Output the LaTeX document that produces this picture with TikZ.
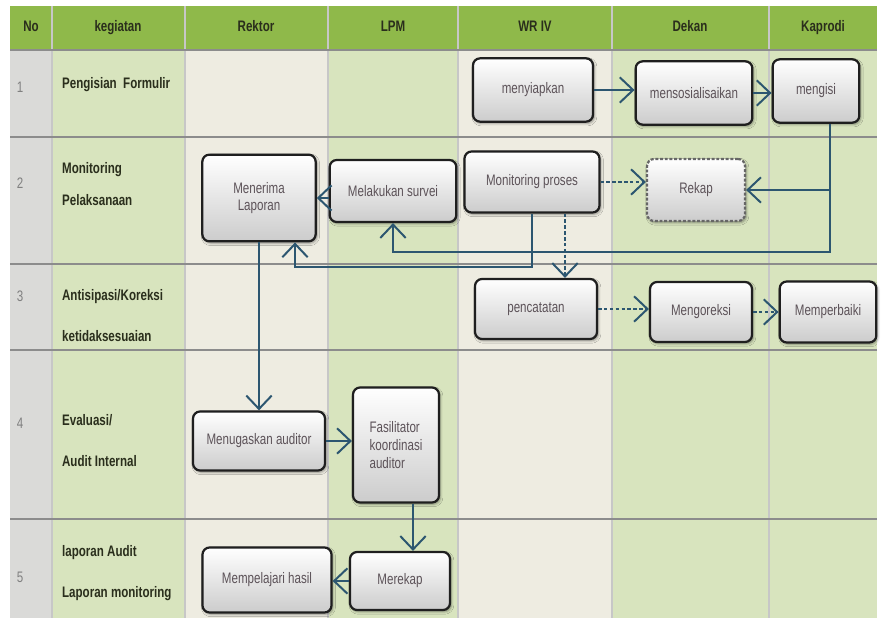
\documentclass[tikz,border=0pt]{standalone}
\usepackage{fontspec}
\setmainfont{Liberation Sans}[FakeStretch=0.76]
\usetikzlibrary{arrows.meta,calc,shadows.blur}
\definecolor{headgreen}{RGB}{143,185,74}
\definecolor{lanegreen}{RGB}{216,228,190}
\definecolor{lanecream}{RGB}{238,236,225}
\definecolor{nogray}{RGB}{218,218,216}
\definecolor{flowblue}{RGB}{44,86,112}
\definecolor{boxtext}{RGB}{92,82,88}
\definecolor{labeltext}{RGB}{42,46,28}

\begin{document}
\begin{tikzpicture}[x=0.3mm, y=-0.3mm,
        font=\fontsize{13}{15}\selectfont,
        stepbox/.style={draw=black!88, line width=1.9pt, rounded corners=6pt,
            top color=white, bottom color=black!20, text=boxtext, align=center,
            inner sep=2pt, blur shadow={shadow xshift=1.2pt, shadow yshift=-1.5pt}},
        dashbox/.style={stepbox, draw=black!60, dash pattern=on 2.5pt off 1.5pt},
        flow/.style={draw=flowblue, line width=1.7pt,
            -{Straight Barb[length=4mm, width=7.6mm, line width=1.7pt]}},
        dflow/.style={flow, dash pattern=on 3pt off 2pt},
        lanehead/.style={font=\bfseries\fontsize{13}{15}\selectfont, text=labeltext,
            text height=1.6ex, text depth=0.4ex},
        lanetext/.style={anchor=west, align=left, text=labeltext,
            font=\bfseries\fontsize{13}{15}\selectfont},
        rownum/.style={text=black!50},
        lanegrid/.style={draw=black!22, line width=0.9pt},
        rowgrid/.style={draw=black!45, line width=1.2pt}]
    \useasboundingbox (0,0) rectangle (881,628);
    \fill[nogray] (10,50) rectangle (52,618);
    \fill[lanegreen] (52,50) rectangle (185,618);
    \fill[lanecream] (185,50) rectangle (328,618);
    \fill[lanegreen] (328,50) rectangle (458,618);
    \fill[lanecream] (458,50) rectangle (612,618);
    \fill[lanegreen] (612,50) rectangle (877,618);
    \fill[headgreen] (10,6) rectangle (877,50);
    \foreach \x in {52,185,328,458,612,769}
        \draw[lanegrid] (\x,6) -- (\x,618);
    \foreach \y in {50,137,264,350,519}
        \draw[rowgrid] (10,\y) -- (877,\y);

    \node[lanehead] (hno) at (31,28) {No};
    \node[lanehead] (hkeg) at (118,28) {kegiatan};
    \node[lanehead] (hrektor) at (256,28) {Rektor};
    \node[lanehead] (hlpm) at (393,28) {LPM};
    \node[lanehead] (hwr) at (535,28) {WR IV};
    \node[lanehead] (hdekan) at (690,28) {Dekan};
    \node[lanehead] (hkaprodi) at (823,28) {Kaprodi};

    \node[rownum] (n1) at (20,87) {1};
    \node[rownum] (n2) at (20,183) {2};
    \node[rownum] (n3) at (20,296) {3};
    \node[rownum] (n4) at (20,423) {4};
    \node[rownum] (n5) at (20,577) {5};

    \node[lanetext] (k1) at (58,85) {Pengisian\ \ Formulir};
    \node[lanetext] (k2) at (58,184) {Monitoring\\[12pt]Pelaksanaan};
    \node[lanetext] (k3) at (58,316) {Antisipasi/Koreksi\\[20pt]ketidaksesuaian};
    \node[lanetext] (k4) at (58,441) {Evaluasi/\\[20pt]Audit Internal};
    \node[lanetext] (k5) at (58,573) {laporan Audit\\[20pt]Laporan monitoring};

    \node[stepbox, minimum width=36mm, minimum height=19mm] (menyiapkan) at (533,90) {menyiapkan};
    \node[stepbox, minimum width=35mm, minimum height=19mm] (mensos) at (694,93) {mensosialisaikan};
    \node[stepbox, minimum width=26mm, minimum height=19mm] (mengisi) at (816,91) {mengisi};
    \node[stepbox, minimum width=34mm, minimum height=26mm] (menerima) at (259,198) {Menerima\\Laporan};
    \node[stepbox, minimum width=38mm, minimum height=18.6mm] (survei) at (393,191) {Melakukan survei};
    \node[stepbox, minimum width=40.5mm, minimum height=18.3mm] (monitor) at (532,182) {Monitoring proses};
    \node[dashbox, minimum width=29.4mm, minimum height=18.6mm] (rekap) at (696,190) {Rekap};
    \node[stepbox, minimum width=36.6mm, minimum height=18mm] (pencatatan) at (536,309) {pencatatan};
    \node[stepbox, minimum width=30.6mm, minimum height=18mm] (mengoreksi) at (701,312) {Mengoreksi};
    \node[stepbox, minimum width=29mm, minimum height=18.3mm] (memperbaiki) at (828,312) {Memperbaiki};
    \node[stepbox, minimum width=39.6mm, minimum height=17.7mm] (menugaskan) at (259,441) {Menugaskan auditor};
    \node[stepbox, minimum width=25.8mm, minimum height=34.5mm, align=left] (fasilitator) at (396,445) {Fasilitator\\koordinasi\\auditor};
    \node[stepbox, minimum width=38.7mm, minimum height=19.5mm] (mempelajari) at (267,580) {Mempelajari hasil};
    \node[stepbox, minimum width=30mm, minimum height=17.4mm] (merekap) at (400,581) {Merekap};

    \coordinate (kp) at (830,252);
    \coordinate (mp) at (295,267);
    \coordinate (dp) at (565,245);
    \coordinate (fp) at (413,530);

    \draw[flow] (menyiapkan.east) -- (menyiapkan.east -| mensos.west);
    \draw[flow] (mensos.east) -- (mensos.east -| mengisi.west);
    \draw[flow] (mengisi.south -| kp) -- (kp) -| (survei.south);
    \draw[flow] (mengisi.south -| kp) |- (rekap.east);
    \draw[flow] (monitor.south) |- (mp) -- (mp |- menerima.south);
    \draw[dflow] (monitor.east) -- (monitor.east -| rekap.west);
    \draw[dflow] (monitor.south -| dp) -- (dp |- pencatatan.north);
    \draw[dflow] (pencatatan.east) -- (pencatatan.east -| mengoreksi.west);
    \draw[dflow] (mengoreksi.east) -- (mengoreksi.east -| memperbaiki.west);
    \draw[flow] (survei.west |- menerima.east) -- (menerima.east);
    \draw[flow] (menerima.south) -- (menugaskan.north);
    \draw[flow] (menugaskan.east) -- (menugaskan.east -| fasilitator.west);
    \draw[flow] (fasilitator.south -| fp) -- (fp |- merekap.north);
    \draw[flow] (merekap.west) -- (merekap.west -| mempelajari.east);
\end{tikzpicture}
\end{document}
